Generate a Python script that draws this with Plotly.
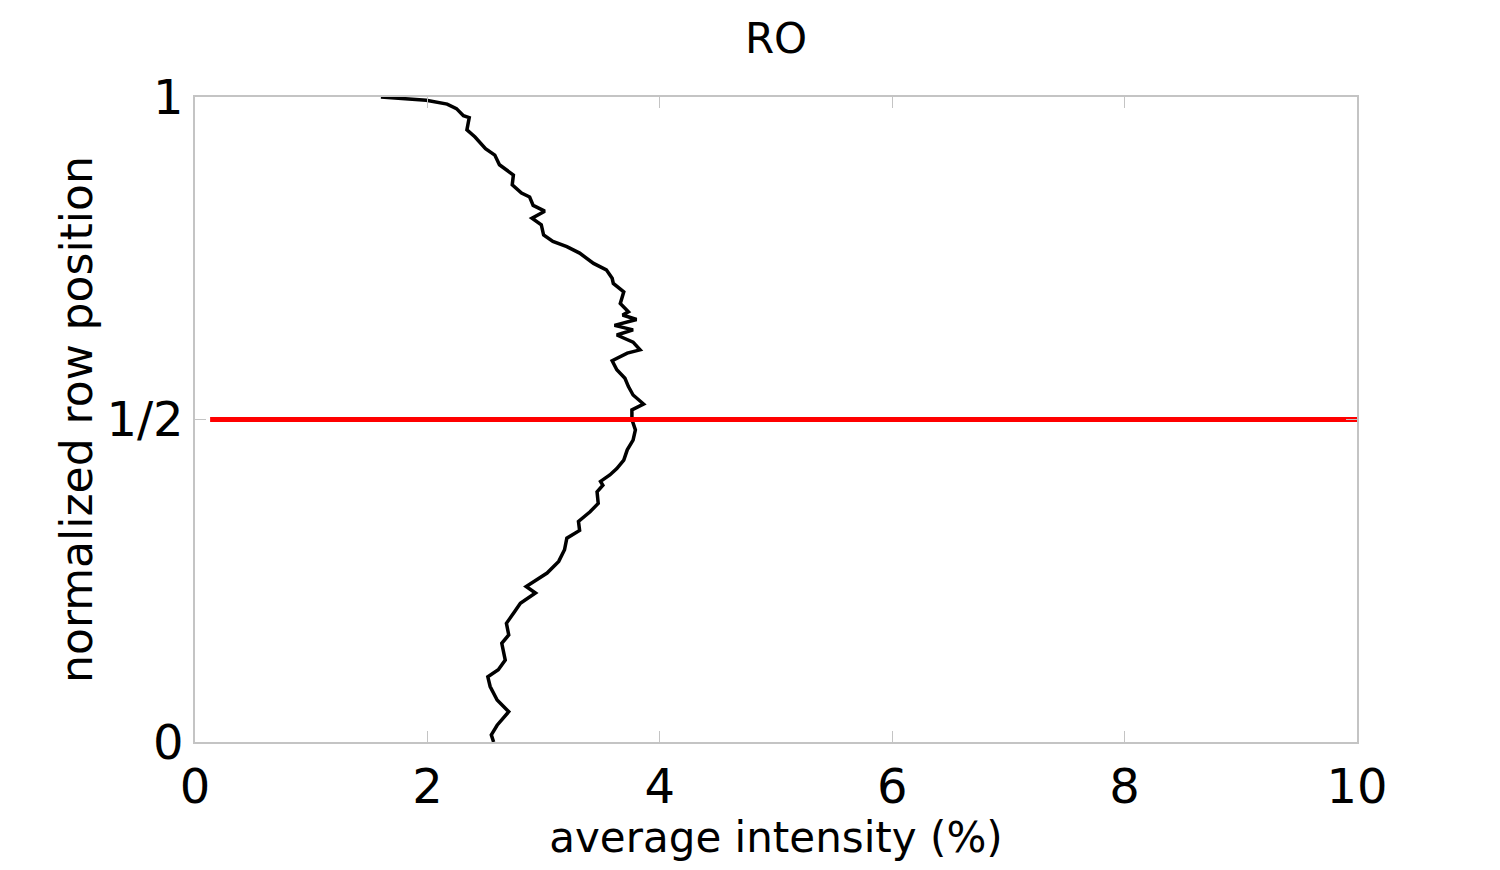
import plotly.graph_objects as go

# average intensity (%), top of the frame to the bottom
Intensity = [1.60, 1.99, 2.17, 2.25, 2.31, 2.36, 2.34, 2.41, 2.50, 2.58,
             2.62, 2.74, 2.73, 2.81, 2.88, 2.91, 3.01, 2.90, 2.98, 3.00,
             3.08, 3.20, 3.31, 3.43, 3.54, 3.59, 3.60, 3.69, 3.66, 3.73,
             3.68, 3.80, 3.61, 3.77, 3.63, 3.77, 3.83, 3.72, 3.59, 3.63,
             3.70, 3.73, 3.77, 3.86, 3.76, 3.76, 3.79, 3.77, 3.72, 3.69,
             3.63, 3.57, 3.49, 3.51, 3.46, 3.47, 3.40, 3.30, 3.31, 3.20,
             3.18, 3.13, 3.03, 2.93, 2.85, 2.93, 2.80, 2.75, 2.68, 2.70,
             2.64, 2.67, 2.61, 2.52, 2.54, 2.60, 2.70, 2.60, 2.55, 2.57]
RowPos = [1.000, 0.995, 0.989, 0.982, 0.971, 0.968, 0.949, 0.938, 0.920, 0.910,
          0.895, 0.879, 0.864, 0.851, 0.845, 0.832, 0.823, 0.812, 0.802, 0.786,
          0.776, 0.768, 0.758, 0.742, 0.732, 0.719, 0.711, 0.698, 0.680, 0.667,
          0.662, 0.655, 0.646, 0.639, 0.631, 0.620, 0.608, 0.603, 0.591, 0.577,
          0.564, 0.551, 0.538, 0.524, 0.515, 0.500, 0.484, 0.468, 0.453, 0.437,
          0.424, 0.414, 0.404, 0.398, 0.388, 0.370, 0.357, 0.342, 0.328, 0.316,
          0.298, 0.280, 0.262, 0.251, 0.241, 0.231, 0.215, 0.202, 0.184, 0.166,
          0.153, 0.127, 0.112, 0.101, 0.086, 0.065, 0.047, 0.026, 0.011, 0.000]

# midline marker
MidX = [0.13, 10.05]
MidY = [0.5, 0.5]

XTicks = [0, 2, 4, 6, 8, 10]
YTicks = [0, 0.5, 1]
YTickText = ['0', '1/2', '1']

FontNm = 'DejaVu Sans'
BoxCol = '#c4c4c4'

# page body has an 8px margin, so size the figure to fit inside it
W, H = 1484, 854

fig = go.Figure()
fig.add_trace(go.Scatter(x=Intensity, y=RowPos, mode='lines',
                         line=dict(color='black', width=3.5), showlegend=False))
fig.add_trace(go.Scatter(x=MidX, y=MidY, mode='lines',
                         line=dict(color='#ff0000', width=5), showlegend=False))

fig.update_layout(
    width=W, height=H,
    margin=dict(l=187, r=135, t=89, b=120),
    paper_bgcolor='white', plot_bgcolor='white',
    font=dict(family=FontNm, color='black'),
    title=dict(text='RO', x=(187 + 1349) / 2 / W, xanchor='center',
               y=1 - 30 / H, yanchor='middle', yref='container',
               font=dict(size=42, family=FontNm)),
)
fig.update_xaxes(range=[0, 10], tickvals=XTicks, ticks='inside', ticklen=11,
                 tickcolor=BoxCol, showline=True, linecolor=BoxCol, linewidth=1.5,
                 mirror='ticks', showgrid=False, zeroline=False, automargin=False,
                 tickfont=dict(size=48), ticklabelstandoff=2,
                 title=dict(text='average intensity (%)', font=dict(size=42), standoff=14))
fig.update_yaxes(range=[0, 1], tickvals=YTicks, ticktext=YTickText, ticks='inside',
                 ticklen=11, tickcolor=BoxCol, showline=True, linecolor=BoxCol,
                 linewidth=1.5, mirror='ticks', showgrid=False, zeroline=False,
                 automargin=False, tickfont=dict(size=48), ticklabelstandoff=0,
                 title=dict(text='normalized row position', font=dict(size=44), standoff=0))

fig.write_html("out.html")
